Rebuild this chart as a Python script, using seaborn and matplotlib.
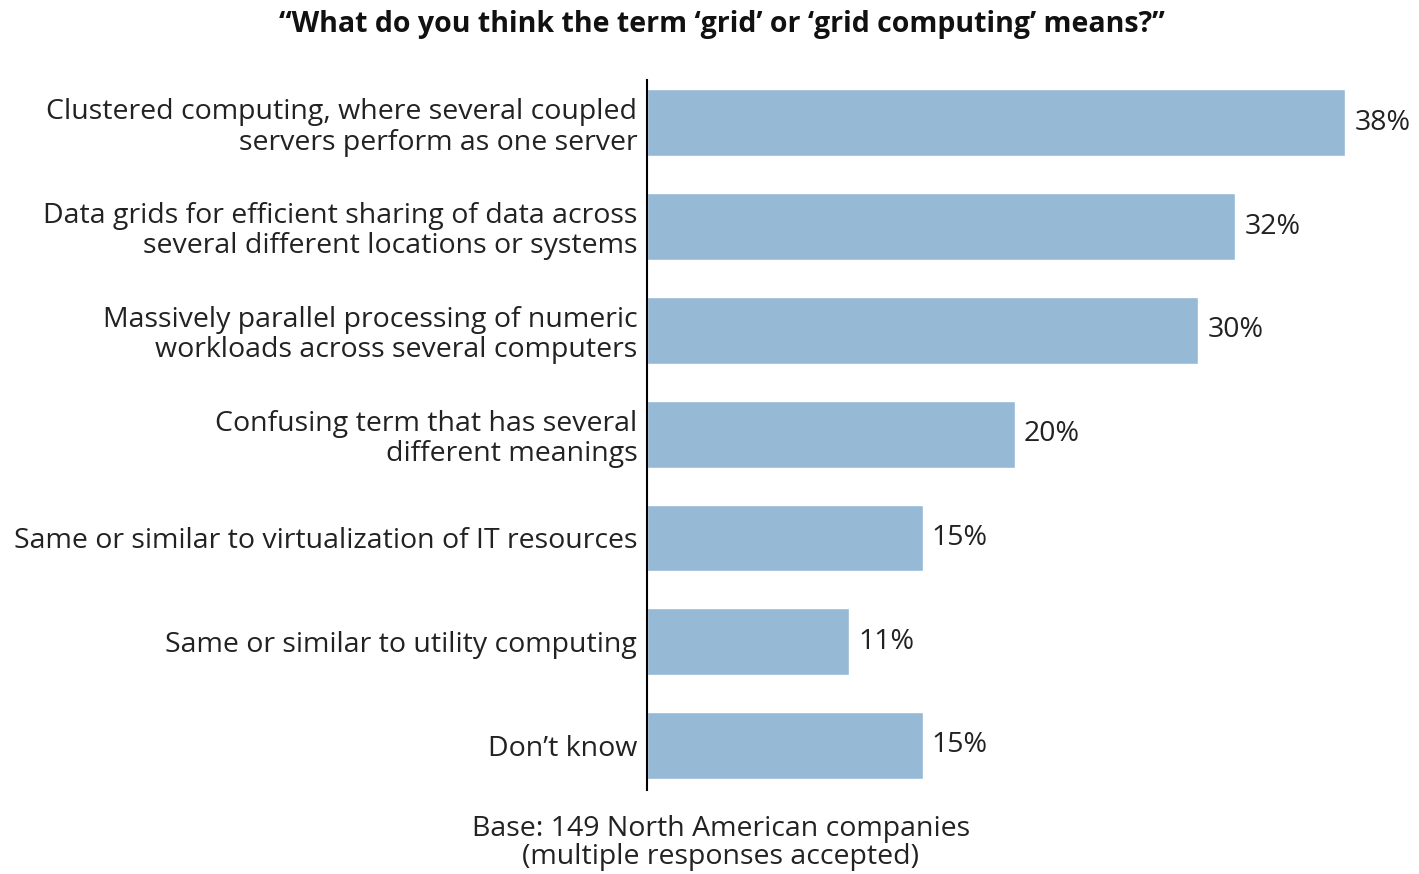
import matplotlib
matplotlib.use('Agg')
import matplotlib.pyplot as plt
import seaborn as sns
import pandas as pd

categories = [
    'Clustered computing, where several coupled\nservers perform as one server',
    'Data grids for efficient sharing of data across\nseveral different locations or systems',
    'Massively parallel processing of numeric\nworkloads across several computers',
    'Confusing term that has several\ndifferent meanings',
    'Same or similar to virtualization of IT resources',
    'Same or similar to utility computing',
    "Don\u2019t know",
]
values = [38, 32, 30, 20, 15, 11, 15]
value_labels = ['38%', '32%', '30%', '20%', '15%', '11%', '15%']

title = '\u201cWhat do you think the term \u2018grid\u2019 or \u2018grid computing\u2019 means?\u201d'
note = 'Base: 149 North American companies\n(multiple responses accepted)'

df = pd.DataFrame({'answer': categories, 'pct': values})

sns.set_style('white')
plt.rcParams['font.family'] = ['Open Sans', 'DejaVu Sans']

fig = plt.figure(figsize=(14.19, 8.74), dpi=100)
ax = fig.add_axes([0.456, 0.096, 0.544, 0.812])

sns.barplot(data=df, x='pct', y='answer', color='#96b9d6', width=0.645,
            saturation=1, ax=ax, orient='h')

for i, (v, lab) in enumerate(zip(values, value_labels)):
    ax.text(v + 0.5, i, lab, va='center', ha='left', fontsize=20.5, color='#222222')

ax.set_xlim(0, 42)
ax.set_ylim(6.43, -0.41)
ax.set_xlabel('')
ax.set_ylabel('')
ax.set_xticks([])
ax.tick_params(axis='y', length=0, pad=7, labelsize=20.5, labelcolor='#222222')
for lab in ax.get_yticklabels():
    lab.set_linespacing(1.1)
for s in ['top', 'right', 'bottom']:
    ax.spines[s].set_visible(False)
ax.spines['left'].set_color('black')
ax.spines['left'].set_linewidth(1.5)

fig.text(0.509, 0.972, title, ha='center', va='center', fontsize=20.5,
         fontweight='bold', color='#111111')
fig.text(0.508, 0.003, note, ha='center', va='bottom', fontsize=20.5,
         color='#222222', linespacing=1.0)

fig.savefig('out.png', dpi=100)
